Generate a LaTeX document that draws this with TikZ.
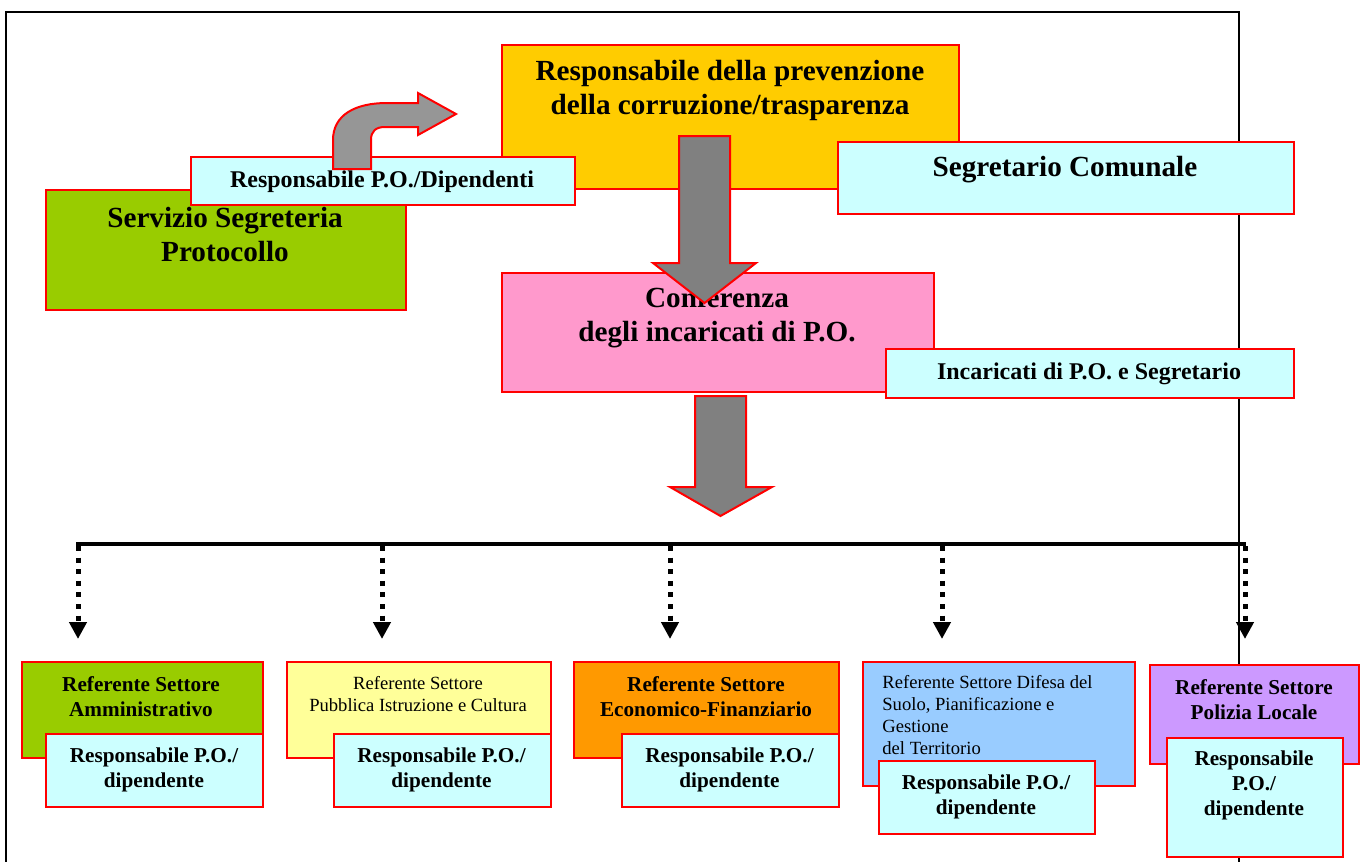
\documentclass[tikz,border=0pt]{standalone}
\usepackage{fontspec}
\setmainfont{Liberation Serif}
\usetikzlibrary{positioning,arrows.meta}

\definecolor{giallo}{HTML}{FFCC00}
\definecolor{ciano}{HTML}{CCFFFF}
\definecolor{verde}{HTML}{99CC00}
\definecolor{rosa}{HTML}{FF99CC}
\definecolor{paglia}{HTML}{FFFF99}
\definecolor{arancio}{HTML}{FF9900}
\definecolor{azzurro}{HTML}{99CCFF}
\definecolor{lilla}{HTML}{CC99FF}
\definecolor{grigio}{HTML}{808080}
\definecolor{grigiochiaro}{HTML}{969696}

\begin{document}
\begin{tikzpicture}[x=0.5pt,y=-0.5pt,
    box/.style={draw=red,line width=1pt,anchor=north west,inner sep=0pt},
    bigtxt/.style={font=\fontsize{14.6}{17}\selectfont\bfseries,align=center,inner sep=0pt},
    midtxt/.style={font=\fontsize{12}{14}\selectfont\bfseries,align=center,inner sep=0pt},
    reftxt/.style={font=\fontsize{10.6}{12.5}\selectfont\bfseries,align=center,inner sep=0pt},
    plaintxt/.style={font=\fontsize{9.3}{10.9}\selectfont,align=center,inner sep=0pt},
    fatarrow/.style={draw=red,line width=1pt,fill=grigio,line join=miter},
    dotarrow/.style={line width=2.5pt,dash pattern=on 2.5pt off 3.3pt,-{Triangle[width=8.5pt,length=8.5pt]}}]
    \useasboundingbox (0,0) rectangle (1362,862);

    % cornice
    \draw[line width=1pt] (6,862) |- (1239,12) -- (1239,862);

    % parte alta
    \node[box,fill=verde,minimum width=180pt,minimum height=60pt] (ssp) at (45,189) {};
    \node[bigtxt] (ssp-t) at (225,235) {Servizio Segreteria\\Protocollo};
    \node[box,fill=giallo,minimum width=228.5pt,minimum height=72pt] (rpc) at (501,44) {};
    \node[bigtxt] (rpc-t) at (730,90) {Responsabile della prevenzione\\della corruzione/trasparenza};
    \node[box,fill=ciano,minimum width=192pt,minimum height=24pt] (rpod) at (190,156) {};
    \node[midtxt] (rpod-t) at (382,182) {Responsabile P.O./Dipendenti};
    \draw[fatarrow,fill=grigiochiaro] (333,169) -- (333,140)
        .. controls (333,115) and (355,103) .. (387,103) -- (418,103) -- (418,93)
        -- (456,114) -- (418,135) -- (418,127) -- (385,127)
        .. controls (376,127) and (371,131) .. (371,140) -- (371,169) -- cycle;
    \node[box,fill=ciano,minimum width=228pt,minimum height=36pt] (seg) at (837,141) {};
    \node[bigtxt] (seg-t) at (1065,170) {Segretario Comunale};

    \node[box,fill=rosa,minimum width=216pt,minimum height=59.5pt] (conf) at (501,272) {};
    \node[bigtxt] (conf-t) at (717,317) {Conferenza\\degli incaricati di P.O.};
    \node[box,fill=ciano,minimum width=204pt,minimum height=24.5pt] (inc) at (885,348) {};
    \node[midtxt] (inc-t) at (1089,374) {Incaricati di P.O. e Segretario};

    % frecce grandi
    \draw[fatarrow] (679,136) -- (730,136) -- (730,263) -- (756,263)
        -- (704.5,303) -- (653,263) -- (679,263) -- cycle;
    \draw[fatarrow] (695,396) -- (746,396) -- (746,487) -- (772,487)
        -- (720.5,516) -- (670,487) -- (695,487) -- cycle;

    % linea di distribuzione
    \draw[line width=2.3pt] (78,546) -- (78,544) -- (1246,544);
    \foreach \n/\x in {1/78,2/382,3/670,4/942,5/1245} {
        \coordinate (top\n) at (\x,546);
        \coordinate (tip\n) at (\x,639);
        \draw[dotarrow] (top\n) -- (tip\n);
    }

    % settori
    \node[box,fill=verde,minimum width=120.5pt,minimum height=48pt] (amm) at (21,661) {};
    \node[reftxt] (amm-t) at (141,697) {Referente Settore\\Amministrativo};
    \node[box,fill=ciano,minimum width=108.5pt,minimum height=36.5pt] (amm-r) at (45,733) {};
    \node[reftxt] (amm-rt) at (154,770) {Responsabile P.O./\\dipendente};

    \node[box,fill=paglia,minimum width=132pt,minimum height=48pt] (pic) at (286,661) {};
    \node[plaintxt] (pic-t) at (418,694) {Referente Settore\\Pubblica Istruzione e Cultura};
    \node[box,fill=ciano,minimum width=108.5pt,minimum height=36.5pt] (pic-r) at (333,733) {};
    \node[reftxt] (pic-rt) at (441.5,770) {Responsabile P.O./\\dipendente};

    \node[box,fill=arancio,minimum width=132.5pt,minimum height=48pt] (eco) at (573,661) {};
    \node[reftxt] (eco-t) at (706,697) {Referente Settore\\Economico-Finanziario};
    \node[box,fill=ciano,minimum width=108.5pt,minimum height=36.5pt] (eco-r) at (621,733) {};
    \node[reftxt] (eco-rt) at (729.5,770) {Responsabile P.O./\\dipendente};

    \node[box,fill=azzurro,minimum width=136pt,minimum height=62pt] (ter) at (862,661) {};
    \node[plaintxt,align=left,anchor=west] (ter-t) at (882,715) {Referente Settore Difesa del\\Suolo, Pianificazione e\\Gestione\\del Territorio};
    \node[box,fill=ciano,minimum width=108pt,minimum height=36.5pt] (ter-r) at (878,760) {};
    \node[reftxt] (ter-rt) at (986,797) {Responsabile P.O./\\dipendente};

    \node[box,fill=lilla,minimum width=104.5pt,minimum height=49.5pt] (pol) at (1149,664) {};
    \node[reftxt] (pol-t) at (1254,700) {Referente Settore\\Polizia Locale};
    \node[box,fill=ciano,minimum width=88pt,minimum height=59.5pt] (pol-r) at (1166,737) {};
    \node[reftxt] (pol-rt) at (1254,785) {Responsabile\\P.O./\\dipendente};
\end{tikzpicture}
\end{document}
